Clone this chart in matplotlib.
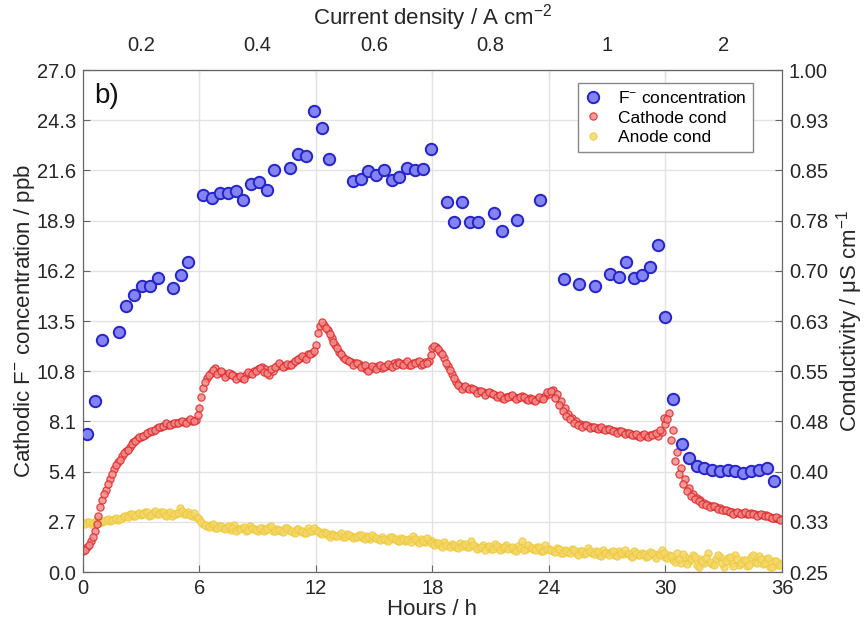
import numpy as np
import matplotlib
matplotlib.use('Agg')
import matplotlib.pyplot as plt

# ---- data ----
# F- concentration (left axis, ppb)
f_hours = [0.19, 0.6, 1.0, 1.84, 2.23, 2.63, 3.02, 3.43, 3.85, 4.63, 5.05, 5.42,
           6.2, 6.64, 7.05, 7.45, 7.86, 8.26, 8.63, 9.06, 9.46, 9.85, 10.64, 11.05,
           11.48, 11.9, 12.3, 12.68, 13.9, 14.3, 14.7, 15.1, 15.5, 15.9, 16.3, 16.7,
           17.1, 17.5, 17.9, 18.76, 19.12, 19.53, 19.93, 20.36, 21.16, 21.56, 22.35,
           23.55, 24.77, 25.57, 26.36, 27.15, 27.58, 27.99, 28.39, 28.79, 29.2, 29.59,
           30.0, 30.4, 30.86, 31.22, 31.6, 32.0, 32.4, 32.8, 33.2, 33.6, 34.0, 34.4,
           34.8, 35.24, 35.6]
f_conc = [7.4, 9.2, 12.5, 12.9, 14.3, 14.9, 15.4, 15.4, 15.8, 15.3, 15.95, 16.7,
          20.3, 20.1, 20.4, 20.4, 20.5, 20.0, 20.85, 21.0, 20.55, 21.65, 21.75, 22.5,
          22.4, 24.8, 23.9, 22.2, 21.05, 21.15, 21.55, 21.35, 21.65, 21.1, 21.25, 21.75,
          21.65, 21.7, 22.75, 19.9, 18.8, 19.9, 18.8, 18.8, 19.3, 18.35, 18.95,
          20.0, 15.75, 15.5, 15.4, 16.05, 15.85, 16.65, 15.8, 15.95, 16.4, 17.6,
          13.7, 9.3, 6.9, 6.15, 5.7, 5.6, 5.5, 5.45, 5.5, 5.45, 5.35, 5.45,
          5.5, 5.6, 4.9]

# conductivity logging: readings on the even 0.2 h grid and the odd 0.1 h grid
cond_hours_a = [i * 0.2 for i in range(181)]
cond_hours_b = [0.1 + i * 0.2 for i in range(180)]

# cathode conductivity (right axis, uS/cm)
cathode_a = [
    0.281, 0.287, 0.296, 0.311, 0.334, 0.358,
    0.372, 0.389, 0.404, 0.414, 0.423,
    0.431, 0.437, 0.444, 0.449, 0.452,
    0.455, 0.459, 0.461, 0.465, 0.467,
    0.470, 0.470, 0.471, 0.473, 0.474,
    0.474, 0.476, 0.476, 0.477, 0.495,
    0.525, 0.540, 0.547, 0.555, 0.549,
    0.547, 0.544, 0.546, 0.543, 0.541,
    0.540, 0.544, 0.547, 0.550, 0.553,
    0.556, 0.553, 0.544, 0.550, 0.558,
    0.559, 0.558, 0.559, 0.562, 0.567,
    0.570, 0.571, 0.576, 0.577, 0.589,
    0.618, 0.619, 0.612, 0.600, 0.589,
    0.579, 0.571, 0.567, 0.564, 0.562,
    0.561, 0.558, 0.553, 0.553, 0.556,
    0.558, 0.555, 0.558, 0.559, 0.562,
    0.564, 0.561, 0.562, 0.559, 0.562,
    0.564, 0.559, 0.564, 0.565, 0.585,
    0.586, 0.579, 0.570, 0.558, 0.546,
    0.534, 0.528, 0.526, 0.525, 0.525,
    0.522, 0.520, 0.519, 0.517, 0.517,
    0.514, 0.513, 0.510, 0.511, 0.513,
    0.511, 0.510, 0.513, 0.508, 0.510,
    0.507, 0.508, 0.510, 0.513, 0.516,
    0.522, 0.516, 0.505, 0.495, 0.486,
    0.480, 0.476, 0.471, 0.470, 0.468,
    0.467, 0.465, 0.465, 0.464, 0.464,
    0.462, 0.461, 0.461, 0.459, 0.458,
    0.456, 0.455, 0.453, 0.455, 0.453,
    0.455, 0.456, 0.453, 0.459, 0.471,
    0.488, 0.462, 0.429, 0.405, 0.389,
    0.375, 0.367, 0.361, 0.358, 0.353,
    0.350, 0.349, 0.347, 0.346, 0.343,
    0.341, 0.340, 0.338, 0.338, 0.338,
    0.337, 0.338, 0.337, 0.335, 0.335,
    0.335, 0.332, 0.331, 0.331, 0.329]
cathode_b = [
    0.283, 0.291, 0.303, 0.322, 0.347,
    0.366, 0.381, 0.397, 0.410, 0.418,
    0.428, 0.433, 0.441, 0.446, 0.451,
    0.453, 0.458, 0.460, 0.462, 0.466,
    0.468, 0.472, 0.469, 0.473, 0.472,
    0.476, 0.473, 0.478, 0.475, 0.484,
    0.511, 0.534, 0.544, 0.552, 0.546,
    0.550, 0.542, 0.548, 0.545, 0.539,
    0.543, 0.538, 0.549, 0.546, 0.551,
    0.555, 0.549, 0.547, 0.554, 0.556,
    0.562, 0.556, 0.561, 0.560, 0.565,
    0.568, 0.573, 0.569, 0.575, 0.580,
    0.607, 0.623, 0.615, 0.606, 0.594,
    0.584, 0.575, 0.569, 0.566, 0.560,
    0.563, 0.556, 0.560, 0.551, 0.558,
    0.554, 0.560, 0.556, 0.561, 0.557,
    0.559, 0.563, 0.560, 0.565, 0.560,
    0.562, 0.566, 0.561, 0.563, 0.574,
    0.588, 0.583, 0.575, 0.563, 0.552,
    0.540, 0.530, 0.524, 0.528, 0.523,
    0.524, 0.518, 0.521, 0.515, 0.519,
    0.516, 0.511, 0.514, 0.508, 0.512,
    0.514, 0.508, 0.511, 0.512, 0.507,
    0.509, 0.505, 0.511, 0.508, 0.519,
    0.521, 0.510, 0.500, 0.490, 0.483,
    0.478, 0.473, 0.470, 0.467, 0.469,
    0.465, 0.467, 0.463, 0.466, 0.462,
    0.463, 0.460, 0.458, 0.461, 0.456,
    0.457, 0.454, 0.456, 0.452, 0.456,
    0.452, 0.454, 0.457, 0.462, 0.480,
    0.478, 0.447, 0.416, 0.397, 0.381,
    0.371, 0.364, 0.359, 0.356, 0.351,
    0.350, 0.347, 0.348, 0.344, 0.342,
    0.342, 0.339, 0.337, 0.339, 0.336,
    0.339, 0.336, 0.336, 0.334, 0.336,
    0.333, 0.334, 0.330, 0.332, 0.328]

# anode conductivity (right axis, uS/cm)
anode_a = [
    0.323, 0.324, 0.322, 0.325, 0.326, 0.324,
    0.327, 0.326, 0.329, 0.328, 0.331,
    0.333, 0.336, 0.334, 0.337, 0.335,
    0.340, 0.334, 0.338, 0.336, 0.339,
    0.335, 0.338, 0.333, 0.337, 0.346,
    0.336, 0.339, 0.334, 0.332, 0.329,
    0.322, 0.318, 0.320, 0.316, 0.319,
    0.315, 0.317, 0.313, 0.320, 0.314,
    0.316, 0.312, 0.318, 0.314, 0.311,
    0.315, 0.313, 0.317, 0.312, 0.314,
    0.311, 0.316, 0.313, 0.310, 0.314,
    0.312, 0.309, 0.315, 0.311, 0.313,
    0.308, 0.310, 0.305, 0.307, 0.304,
    0.306, 0.303, 0.307, 0.304, 0.302,
    0.305, 0.301, 0.304, 0.300, 0.303,
    0.299, 0.302, 0.298, 0.303, 0.300,
    0.297, 0.301, 0.296, 0.299, 0.304,
    0.297, 0.300, 0.295, 0.298, 0.296,
    0.293, 0.290, 0.295, 0.289, 0.292,
    0.288, 0.293, 0.290, 0.287, 0.296,
    0.289, 0.286, 0.291, 0.288, 0.285,
    0.292, 0.287, 0.284, 0.290, 0.286,
    0.283, 0.289, 0.297, 0.285, 0.288,
    0.284, 0.287, 0.282, 0.290, 0.285,
    0.281, 0.286, 0.279, 0.283, 0.280,
    0.284, 0.278, 0.282, 0.277, 0.286,
    0.279, 0.281, 0.276, 0.283, 0.278,
    0.280, 0.275, 0.282, 0.277, 0.279,
    0.274, 0.281, 0.276, 0.278, 0.273,
    0.280, 0.275, 0.277, 0.283, 0.272,
    0.276, 0.268, 0.279, 0.263, 0.272,
    0.266, 0.275, 0.260, 0.270, 0.264,
    0.278, 0.262, 0.269, 0.273, 0.258,
    0.271, 0.264, 0.276, 0.261, 0.268,
    0.259, 0.272, 0.265, 0.274, 0.262,
    0.269, 0.257, 0.266, 0.260, 0.263]
anode_b = [
    0.322, 0.325, 0.323, 0.327, 0.325,
    0.326, 0.329, 0.327, 0.330, 0.329,
    0.334, 0.332, 0.336, 0.333, 0.338,
    0.336, 0.339, 0.335, 0.341, 0.337,
    0.339, 0.334, 0.340, 0.336, 0.338,
    0.341, 0.337, 0.335, 0.338, 0.331,
    0.325, 0.320, 0.317, 0.321, 0.315,
    0.318, 0.314, 0.319, 0.316, 0.312,
    0.314, 0.317, 0.313, 0.316, 0.313,
    0.316, 0.311, 0.314, 0.319, 0.312,
    0.313, 0.310, 0.315, 0.312, 0.309,
    0.314, 0.311, 0.308, 0.312, 0.316,
    0.311, 0.307, 0.309, 0.303, 0.306,
    0.304, 0.308, 0.302, 0.305, 0.301,
    0.303, 0.306, 0.299, 0.302, 0.305,
    0.301, 0.298, 0.300, 0.297, 0.302,
    0.299, 0.296, 0.300, 0.298, 0.295,
    0.299, 0.294, 0.297, 0.301, 0.294,
    0.291, 0.294, 0.288, 0.291, 0.287,
    0.291, 0.286, 0.289, 0.292, 0.287,
    0.290, 0.284, 0.287, 0.283, 0.289,
    0.285, 0.289, 0.283, 0.287, 0.284,
    0.287, 0.282, 0.286, 0.283, 0.291,
    0.286, 0.283, 0.288, 0.281, 0.284,
    0.283, 0.280, 0.285, 0.278, 0.282,
    0.279, 0.283, 0.276, 0.281, 0.278,
    0.282, 0.277, 0.280, 0.274, 0.279,
    0.276, 0.281, 0.274, 0.278, 0.283,
    0.277, 0.272, 0.279, 0.275, 0.277,
    0.274, 0.278, 0.271, 0.276, 0.279,
    0.271, 0.274, 0.265, 0.270, 0.277,
    0.262, 0.269, 0.273, 0.258, 0.267,
    0.271, 0.265, 0.260, 0.276, 0.263,
    0.267, 0.273, 0.259, 0.270, 0.264,
    0.268, 0.261, 0.275, 0.263, 0.270,
    0.264, 0.271, 0.258, 0.267, 0.261]

left_ticks = [0.0, 2.7, 5.4, 8.1, 10.8, 13.5, 16.2, 18.9, 21.6, 24.3, 27.0]
right_ticks = [0.25, 0.325, 0.40, 0.475, 0.55, 0.625, 0.70, 0.775, 0.85, 0.925, 1.00]
right_labels = ['0.25', '0.33', '0.40', '0.48', '0.55', '0.63', '0.70', '0.78', '0.85', '0.93', '1.00']
hour_ticks = [0, 6, 12, 18, 24, 30, 36]
cd_pos = [3, 9, 15, 21, 27, 33]
cd_labels = ['0.2', '0.4', '0.6', '0.8', '1', '2']

plt.rcParams['font.family'] = ['Liberation Sans', 'DejaVu Sans']
plt.rcParams['mathtext.default'] = 'regular'

txt = '#262626'
spine_c = '#666666'
grid_c = '#e3e3e3'
fs = 14.5     # tick labels
lfs = 16      # axis labels

fig = plt.figure(figsize=(8.66, 6.31), dpi=100)
ax = fig.add_axes([0.0958, 0.0935, 0.8072, 0.7955])
ax.set_xlim(0, 36)
ax.set_ylim(0, 27)
ax.set_xticks(hour_ticks)
ax.set_yticks(left_ticks)
ax.set_yticklabels(['%.1f' % v for v in left_ticks])
ax.grid(True, color=grid_c, linewidth=1.0)
ax.set_axisbelow(True)
ax.tick_params(direction='in', length=5, color=spine_c, labelsize=fs, labelcolor=txt)
ax.tick_params(axis='x', pad=5)
ax.tick_params(axis='y', pad=5)
for s in ax.spines.values():
    s.set_color(spine_c)
ax.set_xlabel('Hours / h', fontsize=lfs, color=txt, labelpad=1)
ax.set_ylabel('Cathodic F$^{-}$ concentration / ppb', fontsize=lfs, color=txt, labelpad=0)

# right axis: conductivity
ax2 = ax.twinx()
ax2.set_ylim(0.25, 1.00)
ax2.set_yticks(right_ticks)
ax2.set_yticklabels(right_labels)
ax2.tick_params(direction='in', length=5, color=spine_c, labelsize=fs, labelcolor=txt, pad=5)
for s in ax2.spines.values():
    s.set_color(spine_c)
ax2.set_ylabel('Conductivity / μS cm$^{-1}$', fontsize=lfs, color=txt, labelpad=4)

an_kw = dict(ls='none', marker='o', ms=5.2, mfc='#f4d76a', mec='#efc93a', mew=0.8, alpha=0.85)
ca_kw = dict(ls='none', marker='o', ms=5.2, mfc='#f18b8b', mec='#e02a2a', mew=0.9, alpha=0.85)
l_an, = ax2.plot(cond_hours_a, anode_a, label='Anode cond', **an_kw)
ax2.plot(cond_hours_b, anode_b, **an_kw)
l_ca, = ax2.plot(cond_hours_a, cathode_a, label='Cathode cond', **ca_kw)
ax2.plot(cond_hours_b, cathode_b, **ca_kw)

# F- points on top, sharing left scale
ax3 = ax.twinx()
ax3.set_ylim(0, 27)
ax3.yaxis.set_visible(False)
for s in ax3.spines.values():
    s.set_visible(False)
l_f, = ax3.plot(f_hours, f_conc, 'o', ms=8.2, mfc='#8383f4', mec='#2424c8', mew=1.4,
                label='F$^{-}$ concentration')

# top axis: current density
top = ax.secondary_xaxis('top')
top.set_xticks(hour_ticks[1:-1])
top.set_xticklabels([])
top.set_xticks(cd_pos, cd_labels, minor=True)
top.tick_params(which='major', direction='in', length=5, color=spine_c)
top.tick_params(which='minor', length=0, labelsize=fs, labelcolor=txt, pad=11)
top.spines['top'].set_color(spine_c)
top.set_xlabel('Current density / A cm$^{-2}$', fontsize=lfs, color=txt, labelpad=8)

ax3.text(0.016, 0.975, 'b)', transform=ax3.transAxes, fontsize=20, ha='left', va='top', color='#111111')

leg = ax3.legend(handles=[l_f, l_ca, l_an], loc='upper right', bbox_to_anchor=(0.9585, 0.974),
                 borderaxespad=0, fontsize=12.5, frameon=True, fancybox=False, framealpha=1,
                 edgecolor='#888888', handletextpad=0.9, borderpad=0.4, labelspacing=0.25,
                 handlelength=1.0)
leg.get_frame().set_linewidth(1.0)

fig.savefig('out.png', dpi=100)
